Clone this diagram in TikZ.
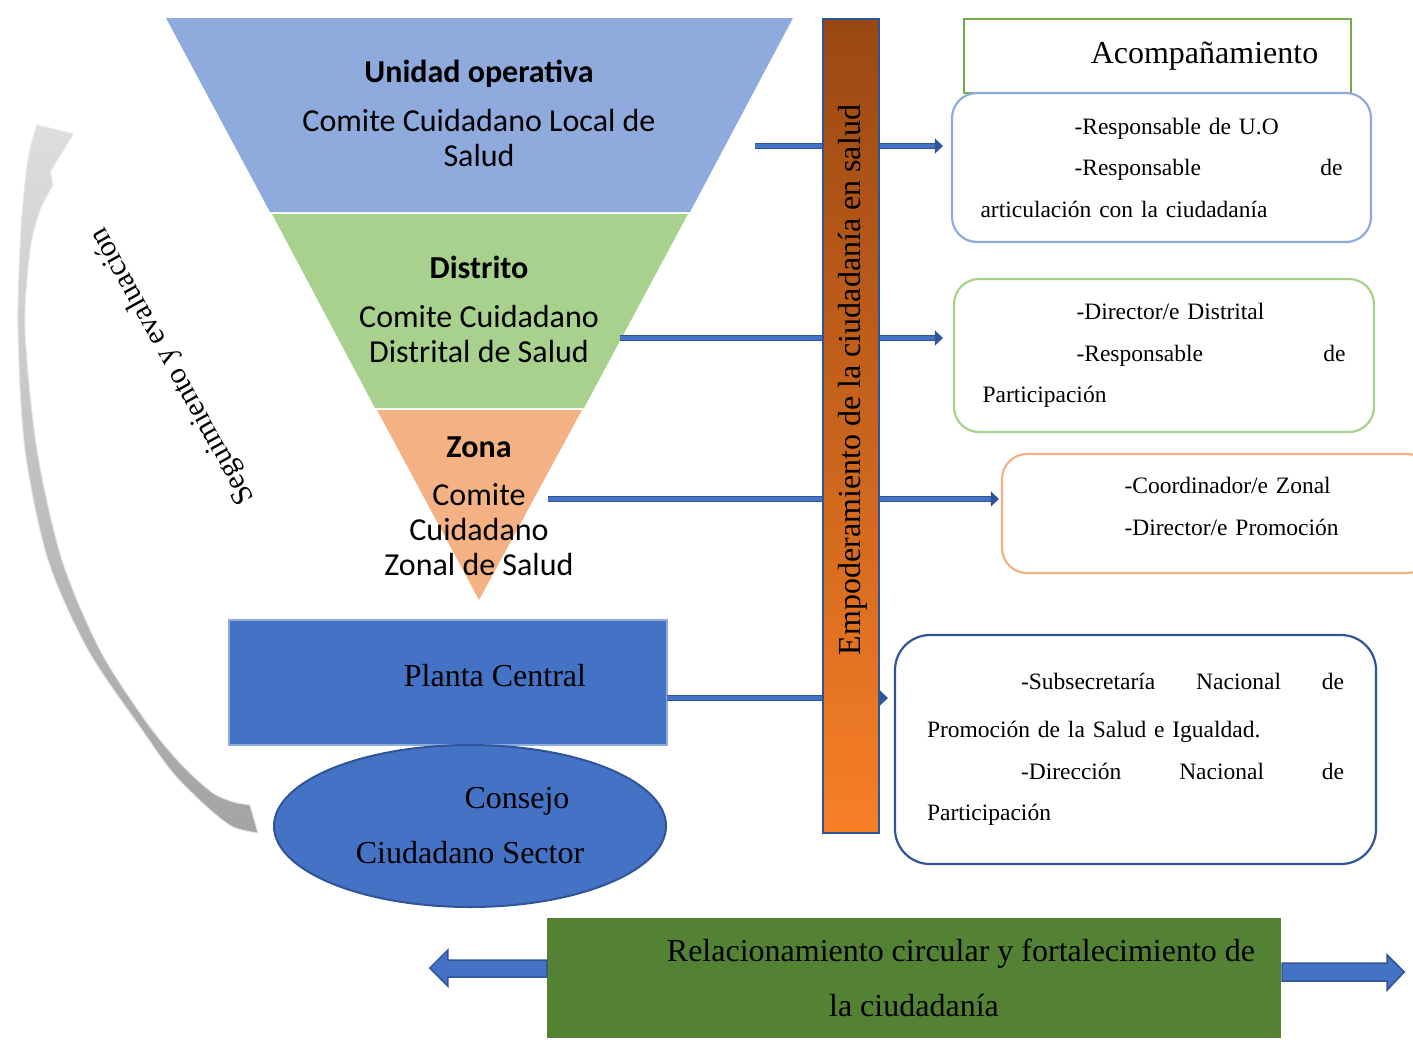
\documentclass[tikz,border=0pt]{standalone}
\usepackage{fontspec}
\setmainfont{Liberation Serif}
\newfontfamily\calibfont{Carlito}
\usetikzlibrary{positioning,arrows.meta,shapes.geometric}

\definecolor{uoblue}{HTML}{8FAADC}
\definecolor{distgreen}{HTML}{A9D18E}
\definecolor{zonaorange}{HTML}{F4B183}
\definecolor{accentblue}{HTML}{4472C4}
\definecolor{darkblue}{HTML}{2F5597}
\definecolor{leafgreen}{HTML}{548235}
\definecolor{acompgreen}{HTML}{70AD47}
\definecolor{bartop}{HTML}{9A4813}
\definecolor{barbottom}{HTML}{F77F26}

\begin{document}
\begin{tikzpicture}[x=1pt,y=-1pt,
    tri/.style={font=\calibfont\fontsize{32}{35}\selectfont, align=center},
    big/.style={font=\fontsize{32}{55}\selectfont, align=center},
    resp/.style={draw, fill=white, line width=2.2pt, rounded corners=25pt,
        font=\fontsize{23.5}{41.5}\selectfont, align=left, inner xsep=28.5pt},
    conn/.style={draw=darkblue, double=accentblue, line width=1.2pt, double distance=3.6pt,
        shorten >=8pt, -{Triangle[length=8pt,width=15pt]}},
    blockarrow/.style={fill=accentblue, draw=darkblue, line width=1.5pt, line join=miter}]

  \useasboundingbox (0,0) rectangle (1413,1039);
  \clip (0,0) rectangle (1413,1039);

  % seguimiento y evaluacion
  \shade[top color=black!13, bottom color=black!36, draw=black!10, line width=1pt]
    plot[smooth] coordinates {(37,125) (28,160) (21,230) (18,330) (25,450) (48,560) (88,650) (140,727) (173,773) (207,807) (233,827) (258,833)}
    -- (250,805)
    -- plot[smooth] coordinates {(237,803) (213,793) (180,763) (145,720) (100,650) (62,560) (37,450) (25,330) (30,250) (40,210) (53,185)}
    -- (50,172) -- (73,134) -- cycle;
  \node[rotate=119, font=\fontsize{30}{36}\selectfont] (seg) at (173,366) {Seguimiento y evaluación};

  % piramide invertida
  \fill[uoblue] (166,18) -- (793,18) -- (690,212) -- (270,212) -- cycle;
  \fill[distgreen] (272,214) -- (688,214) -- (584,408) -- (375,408) -- cycle;
  \fill[zonaorange] (377,410) -- (582,410) -- (479,600) -- cycle;
  \node[tri] (uo) at (479,113) {\textbf{Unidad operativa}\\[14pt]Comite Cuidadano Local de\\Salud};
  \node[tri] (dist) at (479,309) {\textbf{Distrito}\\[14pt]Comite Cuidadano\\Distrital de Salud};
  \node[tri] (zona) at (479,506) {\textbf{Zona}\\[13pt]Comite\\Cuidadano\\Zonal de Salud};

  % acompanamiento
  \node[draw=acompgreen, line width=2pt, fill=white, minimum width=387pt, minimum height=74pt,
        font=\fontsize{32}{36}\selectfont] (acomp) at (1157.5,56) {\hspace*{94pt}Acompañamiento};
  \node[resp, draw=uoblue, text width=362pt, minimum height=149pt] (uoresp) at (1161.5,167.5)
    {\hspace*{94pt}-Responsable de U.O\\
     \hspace*{94pt}-Responsable\hfill de\\
     articulación con la ciudadanía};
  \node[resp, draw=distgreen, text width=363pt, minimum height=153pt] (distresp) at (1164,355.5)
    {\hspace*{94pt}-Director/e Distrital\\
     \hspace*{94pt}-Responsable\hfill de\\
     Participación};
  \node[resp, draw=zonaorange, text width=373pt, minimum height=119pt] (zonaresp) at (1217,513.5)
    {\hspace*{94pt}-Coordinador/e Zonal\\
     \hspace*{94pt}-Director/e Promoción\\[-27pt]\mbox{}};
  \node[resp, draw=darkblue, rounded corners=35pt, inner xsep=32pt, text width=417pt, minimum height=229pt]
    (pcresp) at (1135.5,749.5)
    {\hspace*{94pt}-Subsecretaría\hfill Nacional\hfill de\\[7pt]
     Promoción de la Salud e Igualdad.\\
     \hspace*{94pt}-Dirección\hfill Nacional\hfill de\\
     Participación};

  % planta central y consejo
  \node[fill=accentblue, draw=uoblue, line width=2pt, minimum width=438pt, minimum height=125pt,
        text depth=14pt, font=\fontsize{32}{36}\selectfont] (planta) at (448,682.5) {\hspace*{94pt}Planta Central};
  \node[ellipse, fill=accentblue, draw=darkblue, line width=2pt, minimum width=392pt, minimum height=162pt,
        big] (consejo) at (470,826) {\hspace*{94pt}Consejo\\Ciudadano Sector};

  % conectores
  \coordinate (uo-out) at (755,146);
  \coordinate (dist-out) at (620,338);
  \coordinate (zona-out) at (548,499);
  \coordinate (pc-out) at (667,698);
  \draw[conn] (uo-out) -- (uo-out -| uoresp.west);
  \draw[conn, shorten >=10pt] (dist-out) -- (dist-out -| distresp.west);
  \draw[conn, shorten >=2pt] (zona-out) -- (zona-out -| zonaresp.west);
  \draw[conn, shorten >=6pt] (pc-out) -- (pc-out -| pcresp.west);

  \node[draw=darkblue, line width=2pt, top color=bartop, bottom color=barbottom,
        minimum width=56pt, minimum height=814pt] (bar) at (851,426) {};
  \node[rotate=90, font=\fontsize{32}{36}\selectfont] (bartext) at (853,380)
    {Empoderamiento de la ciudadanía en salud};

  % relacionamiento
  \node[fill=leafgreen, minimum width=734pt, minimum height=120pt, big] (rel) at (914,978)
    {\hspace*{94pt}Relacionamiento circular y fortalecimiento de\\la ciudadanía};
  \draw[blockarrow] (rel.west) ++(0,-18) -- ++(-99,0) -- ++(0,-10) -- ++(-18,18) -- ++(18,18) -- ++(0,-9) -- ++(99,0) -- cycle;
  \draw[blockarrow] (rel.east) ++(1,-15) -- ++(105,0) -- ++(0,-8) -- ++(17,17) -- ++(-17,18) -- ++(0,-9) -- ++(-105,0) -- cycle;
\end{tikzpicture}
\end{document}
